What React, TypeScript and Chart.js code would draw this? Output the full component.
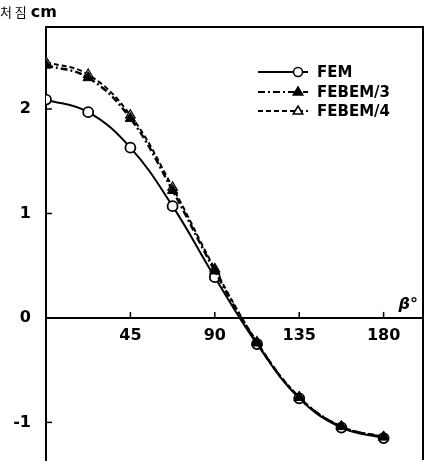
import React, { useEffect, useRef } from 'react';
import { Chart, registerables } from 'chart.js';

Chart.register(...registerables);

const angles = [0, 22.5, 45, 67.5, 90, 112.5, 135, 157.5, 180];
const fem = [2.09, 1.97, 1.63, 1.07, 0.39, -0.25, -0.77, -1.05, -1.15];
const febem3 = [2.42, 2.3, 1.91, 1.22, 0.45, -0.24, -0.76, -1.04, -1.14];
const febem4 = [2.45, 2.33, 1.94, 1.25, 0.47, -0.23, -0.76, -1.04, -1.14];
const xTicks = [45, 90, 135, 180];
const yTicks = [-1, 0, 1, 2];
const seriesNames = ['FEM', 'FEBEM/3', 'FEBEM/4'];
const yTitleKo = '처 짐';
const yTitleUnit = 'cm';
const xTitle = 'β°';

const toPoints = (ys: number[]) => angles.map((a, i) => ({ x: a, y: ys[i] }));

const decorPlugin = {
  id: 'decor',
  afterDraw(chart: any) {
    const { ctx, chartArea } = chart;
    const xs = chart.scales.x;
    const ys = chart.scales.y;
    const { left, right, top, bottom } = chartArea;
    ctx.save();
    ctx.strokeStyle = '#000';
    ctx.fillStyle = '#000';
    // frame: top and right
    ctx.lineWidth = 2;
    ctx.setLineDash([]);
    ctx.beginPath();
    ctx.moveTo(left - 1, top);
    ctx.lineTo(right, top);
    ctx.lineTo(right, bottom);
    ctx.stroke();
    // x ticks (upward from zero line)
    const y0 = ys.getPixelForValue(0);
    ctx.lineWidth = 1.5;
    xTicks.forEach((v) => {
      const px = xs.getPixelForValue(v);
      ctx.beginPath();
      ctx.moveTo(px, y0);
      ctx.lineTo(px, y0 - 6);
      ctx.stroke();
    });
    // y ticks (inward)
    yTicks.forEach((v) => {
      const py = ys.getPixelForValue(v);
      ctx.beginPath();
      ctx.moveTo(left, py);
      ctx.lineTo(left + 6, py);
      ctx.stroke();
    });
    // y title
    ctx.textBaseline = 'alphabetic';
    ctx.textAlign = 'left';
    ctx.font = '13px "Noto Sans CJK KR", sans-serif';
    ctx.fillText(yTitleKo, 0, 17);
    const w = ctx.measureText(yTitleKo).width;
    ctx.font = 'bold 16px "DejaVu Sans", sans-serif';
    ctx.fillText(yTitleUnit, w + 4, 17);
    // x title
    ctx.font = 'italic bold 16px "DejaVu Sans", sans-serif';
    ctx.textAlign = 'right';
    ctx.fillText(xTitle, right - 5, y0 - 9);
    // legend
    const rowsY = [72, 92, 111];
    chart.data.datasets.forEach((ds: any, i: number) => {
      const yy = rowsY[i];
      ctx.setLineDash(ds.borderDash || []);
      ctx.lineWidth = Math.min(ds.borderWidth, 2);
      ctx.beginPath();
      ctx.moveTo(258, yy);
      ctx.lineTo(308, yy);
      ctx.stroke();
      ctx.setLineDash([]);
      ctx.lineWidth = 1.5;
      ctx.fillStyle = ds.pointBackgroundColor;
      const mx = 298;
      if (ds.pointStyle === 'circle') {
        ctx.beginPath();
        ctx.arc(mx, yy, 4.5, 0, Math.PI * 2);
        ctx.fill();
        ctx.stroke();
      } else {
        const r = 5;
        ctx.beginPath();
        ctx.moveTo(mx, yy - r);
        ctx.lineTo(mx + r * 0.95, yy + r * 0.6);
        ctx.lineTo(mx - r * 0.95, yy + r * 0.6);
        ctx.closePath();
        ctx.fill();
        ctx.stroke();
      }
      ctx.fillStyle = '#000';
      ctx.font = 'bold 15px "DejaVu Sans", sans-serif';
      ctx.textAlign = 'left';
      ctx.textBaseline = 'middle';
      ctx.fillText(seriesNames[i], 317, yy + 1);
    });
    ctx.restore();
  },
};

export default function App() {
  const ref = useRef<HTMLCanvasElement | null>(null);
  useEffect(() => {
    if (!ref.current) return;
    const chart = new Chart(ref.current, {
      type: 'line',
      data: {
        datasets: [
          {
            label: seriesNames[0],
            data: toPoints(fem),
            borderColor: '#000',
            borderWidth: 2,
            borderDash: [],
            tension: 0.4,
            pointStyle: 'circle',
            pointRadius: 5,
            pointBorderWidth: 1.8,
            pointBackgroundColor: '#fff',
            pointBorderColor: '#000',
            order: 3,
          },
          {
            label: seriesNames[1],
            data: toPoints(febem3),
            borderColor: '#000',
            borderWidth: 2.5,
            borderDash: [7, 3, 2, 3],
            tension: 0.4,
            pointStyle: 'triangle',
            pointRadius: 6,
            pointBorderWidth: 1,
            pointBackgroundColor: '#000',
            pointBorderColor: '#000',
            order: 1,
          },
          {
            label: seriesNames[2],
            data: toPoints(febem4),
            borderColor: '#000',
            borderWidth: 2,
            borderDash: [5, 3],
            tension: 0.4,
            pointStyle: 'triangle',
            pointRadius: 5.5,
            pointBorderWidth: 1.2,
            pointBackgroundColor: '#fff',
            pointBorderColor: '#000',
            order: 2,
          },
        ],
      },
      options: {
        animation: false,
        responsive: false,
        events: [],
        layout: { autoPadding: false, padding: { top: 27, right: 3, bottom: 2, left: 0 } },
        plugins: { legend: { display: false }, tooltip: { enabled: false } },
        scales: {
          x: {
            type: 'linear',
            position: { y: 0 },
            min: 0,
            max: 201,
            grid: { display: false, drawTicks: false },
            border: { display: true, color: '#000', width: 2 },
            afterBuildTicks: (s: any) => {
              s.ticks = xTicks.map((v) => ({ value: v }));
            },
            afterFit: (s: any) => {
              s.height = 0;
              s.paddingLeft = 0;
              s.paddingRight = 0;
              s.paddingTop = 0;
              s.paddingBottom = 0;
            },
            ticks: {
              color: '#000',
              font: { family: '"DejaVu Sans", sans-serif', size: 16, weight: 'bold' },
              padding: 8,
              maxRotation: 0,
              autoSkip: false,
            },
          },
          y: {
            type: 'linear',
            position: 'left',
            min: -1.36,
            max: 2.785,
            grid: { display: false, drawTicks: false },
            border: { display: true, color: '#000', width: 2 },
            afterBuildTicks: (s: any) => {
              s.ticks = yTicks.map((v) => ({ value: v }));
            },
            afterFit: (s: any) => {
              s.width = 46;
              s.paddingTop = 0;
              s.paddingBottom = 0;
              s.paddingLeft = 0;
              s.paddingRight = 0;
            },
            ticks: {
              color: '#000',
              font: { family: '"DejaVu Sans", sans-serif', size: 16, weight: 'bold' },
              padding: 15,
              callback: (v: any) => String(v),
            },
          },
        },
      },
      plugins: [decorPlugin],
    });
    return () => chart.destroy();
  }, []);
  return (
    <div style={{ position: 'absolute', left: 0, top: 0, width: 426, height: 462, background: '#fff' }}>
      <canvas ref={ref} width={426} height={462} />
    </div>
  );
}
